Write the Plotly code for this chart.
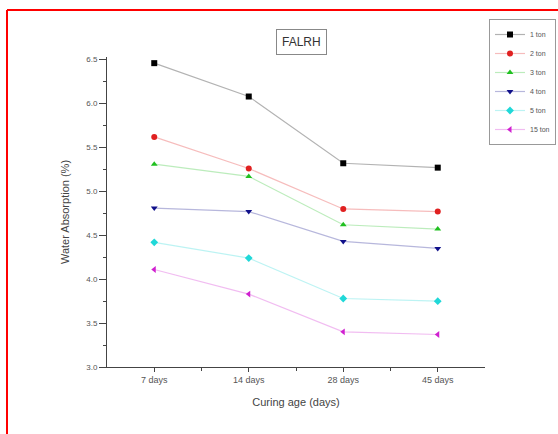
import plotly.graph_objects as go

categories = ["7 days", "14 days", "28 days", "45 days"]
series_names = ["1 ton", "2 ton", "3 ton", "4 ton", "5 ton", "15 ton"]
s1 = [6.46, 6.08, 5.32, 5.27]
s2 = [5.62, 5.26, 4.80, 4.77]
s3 = [5.31, 5.17, 4.62, 4.57]
s4 = [4.81, 4.77, 4.43, 4.35]
s5 = [4.42, 4.24, 3.78, 3.75]
s15 = [4.11, 3.83, 3.40, 3.37]
values = [s1, s2, s3, s4, s5, s15]

colors = ["#000000", "#e02020", "#20c020", "#10108a", "#20d8d8", "#d020d0"]
line_colors = ["rgba(0,0,0,0.3)", "rgba(224,32,32,0.3)", "rgba(32,192,32,0.3)",
               "rgba(16,16,138,0.3)", "rgba(32,216,216,0.3)", "rgba(208,32,208,0.3)"]
symbols = ["square", "circle", "triangle-up", "triangle-down", "diamond", "triangle-left"]

W, H = 558, 434
L, R, T, B = 107, 73, 57, 67
pw, ph = W - L - R, H - T - B

xpos = list(range(1, len(categories) + 1))

fig = go.Figure()
for name, vals, c, lc, sym in zip(series_names, values, colors, line_colors, symbols):
    fig.add_trace(go.Scatter(
        x=xpos, y=vals, name=name, mode="lines+markers",
        line=dict(color=lc, width=1.2),
        marker=dict(color=c, symbol=sym, size=6),
    ))

def px_x(p):
    return (p - L) / pw

def px_y(p):
    return (H - B - p) / ph

fig.update_layout(
    width=W, height=H,
    margin=dict(l=L, r=R, t=T, b=B, autoexpand=False),
    paper_bgcolor="white", plot_bgcolor="white",
    font=dict(family="Liberation Sans, Arial", color="#333333"),
    showlegend=True,
    legend=dict(
        x=px_x(489), y=px_y(19), xanchor="left", yanchor="top",
        bordercolor="#999999", borderwidth=1,
        font=dict(size=7, color="#555555"),
        tracegroupgap=0, itemwidth=30,
        bgcolor="white",
    ),
    xaxis=dict(
        range=[0.5, 4.5], tickvals=xpos, ticktext=categories,
        showgrid=False, zeroline=False, showline=True, linecolor="#444444", linewidth=1,
        ticks="outside", ticklen=4, tickcolor="#444444",
        minor=dict(tickvals=[1.5, 2.5, 3.5], ticks="outside", ticklen=3, tickcolor="#444444"),
        tickfont=dict(size=9, color="#555555"),
        title=dict(text="Curing age (days)", font=dict(size=11, color="#444444"), standoff=14),
    ),
    yaxis=dict(
        range=[3.0, 6.53], tickvals=[3.0, 3.5, 4.0, 4.5, 5.0, 5.5, 6.0, 6.5],
        ticktext=["3.0", "3.5", "4.0", "4.5", "5.0", "5.5", "6.0", "6.5"],
        showgrid=False, zeroline=False, showline=True, linecolor="#444444", linewidth=1,
        ticks="outside", ticklen=7, tickcolor="#444444",
        minor=dict(dtick=0.25, tick0=3.0, ticks="outside", ticklen=3, tickcolor="#444444"),
        tickfont=dict(size=8, color="#555555"),
        title=dict(text="Water Absorption (%)", font=dict(size=11, color="#444444"), standoff=14),
    ),
    annotations=[dict(
        text="FALRH", x=px_x(301), y=px_y(29), xref="paper", yref="paper",
        showarrow=False, font=dict(size=12, color="#333333"),
        bordercolor="#888888", borderwidth=1, borderpad=5, bgcolor="white",
    )],
    shapes=[
        dict(type="line", xref="paper", yref="paper", x0=px_x(7), x1=px_x(W + 5),
             y0=px_y(10), y1=px_y(10), line=dict(color="red", width=2)),
        dict(type="line", xref="paper", yref="paper", x0=px_x(7), x1=px_x(7),
             y0=px_y(10), y1=px_y(H + 5), line=dict(color="red", width=2)),
    ],
)

fig.write_html("out.html")
